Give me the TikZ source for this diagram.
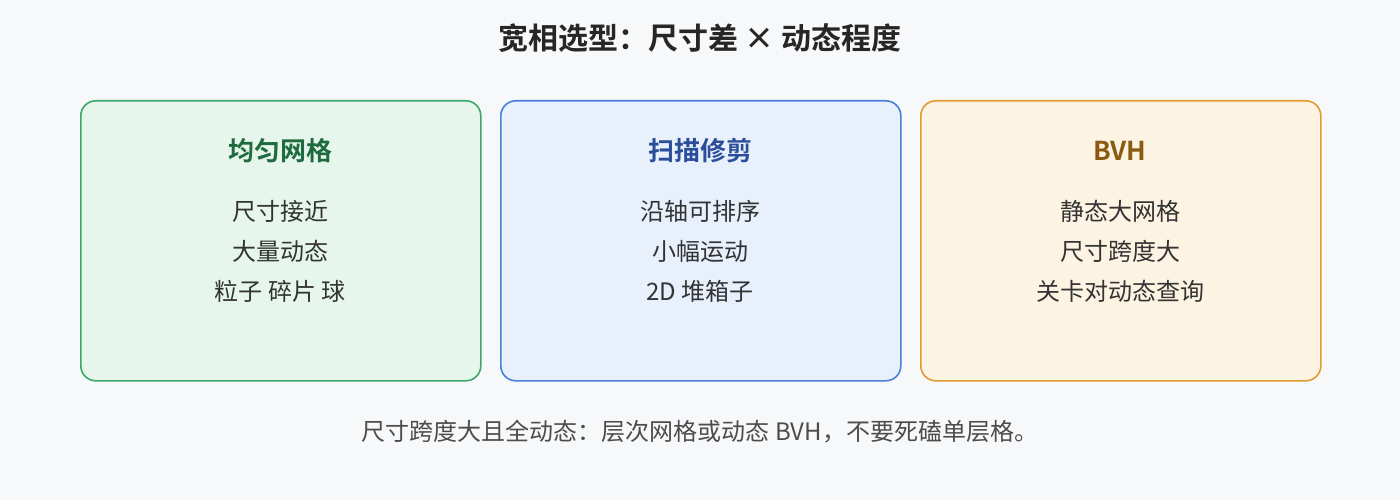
\documentclass[tikz,border=0pt]{standalone}
\usepackage{fontspec}
\setmainfont{Noto Sans CJK SC}[BoldFont={Noto Sans CJK SC Bold}]
\definecolor{pagebg}{HTML}{F7F8FA}
\definecolor{gridfill}{HTML}{E6F6EC}
\definecolor{gridline}{HTML}{3CA86C}
\definecolor{gridtext}{HTML}{1F6B3F}
\definecolor{sweepfill}{HTML}{E8F0FC}
\definecolor{sweepline}{HTML}{4A80D8}
\definecolor{sweeptext}{HTML}{2A4E9A}
\definecolor{bvhfill}{HTML}{FDF3E3}
\definecolor{bvhline}{HTML}{E09C30}
\definecolor{bvhtext}{HTML}{8A5A12}
\definecolor{bodytext}{HTML}{333333}
\usetikzlibrary{positioning}

\begin{document}
\begin{tikzpicture}[x=1pt, y=-1pt,
        card/.style = {rounded corners = 15pt, line width = 1.6pt, minimum width = 400pt, minimum height = 280pt, anchor = north west},
        cardtitle/.style = {font = \fontsize{26}{30}\selectfont\bfseries},
        cardline/.style = {font = \fontsize{24}{28}\selectfont, text = bodytext}]
    \useasboundingbox [fill = pagebg] (0,0) rectangle (1400,500);

    \node (title) [font = \fontsize{30}{34}\selectfont\bfseries, text = black!85] at (700, 38) {宽相选型：尺寸差 × 动态程度};

    \node (grid) [card, draw = gridline, fill = gridfill] at (80, 100) {};
    \node (sweep) [card, draw = sweepline, fill = sweepfill] at (500, 100) {};
    \node (bvh) [card, draw = bvhline, fill = bvhfill] at (920, 100) {};

    \node (gridtitle) [cardtitle, text = gridtext] at (280, 151) {均匀网格};
    \node (sweeptitle) [cardtitle, text = sweeptext] at (700, 151) {扫描修剪};
    \node (bvhtitle) [cardtitle, text = bvhtext] at (1120, 151) {BVH};

    \foreach \txt [count = \i] in {尺寸接近, 大量动态, 粒子 碎片 球}
    {
        \node (grid\i) [cardline] at (280, 171 + 40*\i) {\txt};
    }
    \foreach \txt [count = \i] in {沿轴可排序, 小幅运动, 2D 堆箱子}
    {
        \node (sweep\i) [cardline] at (700, 171 + 40*\i) {\txt};
    }
    \foreach \txt [count = \i] in {静态大网格, 尺寸跨度大, 关卡对动态查询}
    {
        \node (bvh\i) [cardline] at (1120, 171 + 40*\i) {\txt};
    }

    \node (note) [cardline, text = black!70] at (700, 432) {尺寸跨度大且全动态：层次网格或动态 BVH，不要死磕单层格。};
\end{tikzpicture}
\end{document}
